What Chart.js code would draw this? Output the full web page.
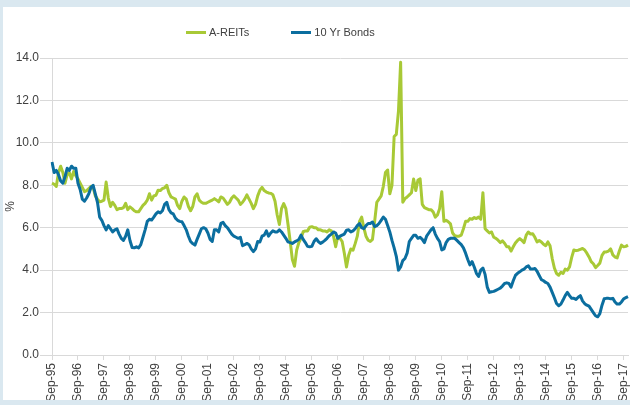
<!DOCTYPE html>
<html>
<head>
<meta charset="utf-8">
<title>A-REITs vs 10 Yr Bonds</title>
<script src="https://cdn.jsdelivr.net/npm/chart.js@4/dist/chart.umd.min.js"></script>
<style>
    html, body { margin: 0; padding: 0; }
    body { width: 630px; height: 405px; background: #dae8f0; overflow: hidden; position: relative; }
    #chartBox { position: absolute; left: 3px; top: 7px; width: 627px; height: 393px; background: #fff; overflow: hidden; }
    #legend { position: absolute; left: 183px; top: 19px; display: flex; align-items: center;
              font: 11px Arial, "Liberation Sans", sans-serif; color: #404040; line-height: 13px; }
    .legend-item { display: flex; align-items: center; margin-right: 42px; }
    .legend-swatch { width: 20px; height: 3px; margin-right: 3px; }
</style>
</head>
<body>
<div id="chartBox">
    <canvas id="yieldChart"></canvas>
    <div id="legend"></div>
</div>
<script>
// Monthly yields (%), Sep-95 .. Nov-17, one row per year (Sep..Aug)
const aReits = [
    8.1, 8.05, 7.95, 8.6, 8.9, 8.6, 8.1, 8.5, 8.6, 8.3, 8.65, 8.45,
    8.3, 8.1, 7.9, 7.7, 7.75, 7.85, 7.95, 7.9, 7.5, 7.35, 7.22, 7.25,
    7.3, 8.15, 7.4, 7.0, 7.2, 7.05, 6.85, 6.9, 6.9, 6.95, 7.15, 6.85,
    6.98, 6.9, 6.8, 6.75, 6.75, 6.9, 7.05, 7.15, 7.3, 7.6, 7.3, 7.5,
    7.53, 7.77, 7.75, 7.85, 7.88, 8.0, 7.65, 7.45, 7.4, 7.35, 7.05, 6.9,
    7.25, 7.45, 7.35, 7.0, 6.8, 7.0, 7.45, 7.6, 7.3, 7.2, 7.15, 7.15,
    7.2, 7.25, 7.3, 7.37, 7.3, 7.22, 7.45, 7.4, 7.25, 7.1, 7.2, 7.4,
    7.5, 7.4, 7.3, 7.1, 7.2, 7.35, 7.55, 7.35, 7.15, 6.9, 7.1, 7.5,
    7.77, 7.9, 7.75, 7.68, 7.64, 7.62, 7.55, 7.25, 6.6, 6.15, 6.9, 7.14,
    6.9, 6.15, 5.35, 4.5, 4.18, 4.95, 5.3, 5.5, 5.81, 5.85, 5.85, 6.02,
    6.05, 6.0, 6.0, 5.9, 5.9, 5.85, 5.85, 5.8, 5.9, 5.85, 5.6, 5.1,
    5.6, 5.5, 5.35, 4.8, 4.15, 4.7, 5.0, 4.94, 5.25, 5.6, 6.3, 6.5,
    6.0, 5.6, 5.41, 5.35, 5.45, 6.3, 7.2, 7.35, 7.5, 7.95, 8.6, 8.72,
    7.6, 8.0, 10.3, 10.4, 11.5, 13.8, 7.2, 7.37, 7.45, 7.55, 7.65, 8.3,
    7.75, 8.25, 8.3, 7.1, 6.95, 6.9, 6.85, 6.85, 6.75, 6.5, 6.6, 6.9,
    7.7, 6.3, 6.35, 6.28, 6.18, 5.75, 5.62, 5.6, 5.6, 5.65, 5.95, 6.3,
    6.3, 6.43, 6.4, 6.48, 6.43, 6.5, 6.4, 7.65, 5.95, 5.85, 5.75, 5.8,
    5.55, 5.5, 5.41, 5.3, 5.38, 5.27, 5.1, 5.1, 4.9, 5.1, 5.28, 5.4,
    5.49, 5.4, 5.3, 5.65, 5.8, 5.7, 5.72, 5.55, 5.33, 5.4, 5.33, 5.22,
    5.15, 5.33, 5.15, 4.55, 4.1, 3.84, 3.76, 3.9, 3.84, 4.05, 4.0, 4.15,
    4.6, 4.95, 4.92, 4.94, 4.98, 5.02, 4.95, 4.8, 4.62, 4.4, 4.3, 4.12,
    4.22, 4.33, 4.7, 4.85, 4.86, 4.9, 5.0, 4.72, 4.62, 4.58, 4.9, 5.18,
    5.1, 5.12, 5.18
];

const bonds = [
    9.1, 8.6, 8.7, 8.5, 8.2, 8.1, 8.4, 8.8, 8.7, 8.9, 8.8, 8.8,
    8.1, 7.8, 7.35, 7.25, 7.4, 7.6, 7.9, 8.0, 7.6, 7.2, 6.5, 6.35,
    6.1, 5.9, 6.1, 5.95, 5.8, 5.9, 5.95, 5.7, 5.5, 5.4, 5.6, 5.9,
    5.4, 5.07, 5.05, 5.1, 5.05, 5.2, 5.55, 5.9, 6.3, 6.4, 6.36, 6.5,
    6.65, 6.75, 6.7, 6.8, 7.1, 7.2, 6.85, 6.7, 6.65, 6.45, 6.35, 6.3,
    6.28, 6.1, 5.9, 5.6, 5.35, 5.25, 5.18, 5.45, 5.7, 5.95, 6.0, 5.95,
    5.75, 5.45, 5.35, 5.9, 5.9, 5.8, 6.2, 6.25, 6.1, 6.0, 5.85, 5.7,
    5.6, 5.55, 5.5, 5.55, 5.15, 5.2, 5.26, 5.2, 5.0, 4.87, 5.0, 5.35,
    5.33, 5.6, 5.65, 5.85, 5.6, 5.75, 5.85, 5.8, 5.8, 5.9, 5.8, 5.65,
    5.5, 5.33, 5.3, 5.26, 5.33, 5.38, 5.45, 5.65, 5.45, 5.3, 5.12, 5.1,
    5.12, 5.35, 5.48, 5.35, 5.26, 5.32, 5.4, 5.5, 5.62, 5.7, 5.8, 5.75,
    5.5, 5.6, 5.65, 5.7, 5.88, 5.9, 5.8, 5.85, 5.95, 6.1, 6.2, 6.0,
    5.95, 6.1, 6.2, 6.2, 6.27, 6.05, 6.1, 6.2, 6.35, 6.5, 6.4, 6.1,
    5.8, 5.4, 5.05, 4.65, 4.0, 4.15, 4.45, 4.55, 4.8, 5.35, 5.5, 5.64,
    5.64, 5.5, 5.55, 5.45, 5.3, 5.6, 5.75, 5.9, 6.0, 5.7, 5.5, 5.35,
    4.95, 5.0, 5.3, 5.45, 5.5, 5.5, 5.5, 5.4, 5.3, 5.2, 5.05, 4.8,
    4.5, 4.25, 4.4, 4.15, 3.85, 3.7, 4.0, 4.1, 3.8, 3.2, 2.95, 2.98,
    3.0, 3.05, 3.1, 3.15, 3.25, 3.37, 3.4, 3.37, 3.2, 3.5, 3.75, 3.85,
    3.92, 4.0, 4.05, 4.15, 4.2, 4.05, 4.05, 4.08, 3.95, 3.75, 3.55, 3.5,
    3.42, 3.37, 3.2, 2.95, 2.7, 2.43, 2.32, 2.4, 2.59, 2.8, 2.95, 2.8,
    2.67, 2.67, 2.62, 2.72, 2.8, 2.55, 2.42, 2.35, 2.3, 2.15, 2.0, 1.85,
    1.8, 1.95, 2.35, 2.65, 2.67, 2.67, 2.65, 2.67, 2.5, 2.4, 2.4, 2.5,
    2.65, 2.7, 2.75
];

// Only these months get a label and a tick mark on the x axis
const tickLabels = [
    'Sep-95', 'Sep-96', 'Sep-97', 'Sep-98', 'Sep-99', 'Sep-00', 'Sep-01', 'Sep-02',
    'Sep-03', 'Sep-04', 'Sep-05', 'Sep-06', 'Sep-07', 'Sep-08', 'Sep-09', 'Sep-10',
    'Sep-11', 'Sep-12', 'Sep-13', 'Sep-14', 'Sep-15', 'Sep-16', 'Sep-17'
];

// y axis: 0.0 .. 14.0 every 2.0
const Y_MIN = 0;
const Y_MAX = 14;
const Y_STEP = 2;

// Monthly category labels starting Sep-95
const MONTH_NAMES = ['Jan', 'Feb', 'Mar', 'Apr', 'May', 'Jun', 'Jul', 'Aug', 'Sep', 'Oct', 'Nov', 'Dec'];
const months = [];
for (let i = 0; i < aReits.length; i++) {
    const n = 8 + i;
    const year = 1995 + Math.floor(n / 12);
    months.push(MONTH_NAMES[n % 12] + '-' + String(year).slice(2));
}

const GREEN = '#a8c936';
const BLUE = '#0b6e9f';
const GRID = '#d9d9d9';
const TEXT = '#404040';
const FONT = 'Arial, "Liberation Sans", sans-serif';

Chart.defaults.font.family = FONT;
Chart.defaults.font.size = 12;
Chart.defaults.color = TEXT;

const ctx = document.getElementById('yieldChart').getContext('2d');
const yieldChart = new Chart(ctx, {
    type: 'line',
    data: {
        labels: months,
        datasets: [{
            label: 'A-REITs',
            data: aReits,
            borderColor: GREEN,
            backgroundColor: GREEN,
            borderWidth: 3,
            borderJoinStyle: 'round',
            pointRadius: 0,
            tension: 0,
            order: 1
        }, {
            label: '10 Yr Bonds',
            data: bonds,
            borderColor: BLUE,
            backgroundColor: BLUE,
            borderWidth: 3,
            borderJoinStyle: 'round',
            pointRadius: 0,
            tension: 0,
            order: 0
        }]
    },
    options: {
        responsive: true,
        maintainAspectRatio: false,
        animation: false,
        layout: {
            padding: { top: 51, right: 2, bottom: 0, left: 0 }
        },
        plugins: {
            legend: { display: false },
            tooltip: { mode: 'index', intersect: false }
        },
        scales: {
            x: {
                ticks: {
                    autoSkip: false,
                    minRotation: 90,
                    maxRotation: 90,
                    padding: 3,
                    callback: function(value, index) {
                        return tickLabels.includes(months[index]) ? months[index] : '';
                    }
                },
                grid: {
                    drawOnChartArea: false,
                    drawTicks: true,
                    tickLength: 5,
                    color: function(context) {
                        return tickLabels.includes(months[context.index]) ? GRID : 'rgba(0,0,0,0)';
                    }
                },
                border: { color: GRID },
                afterFit: function(scale) {
                    scale.height = 45;
                    scale.paddingLeft = 0;
                    scale.paddingRight = 0;
                }
            },
            y: {
                min: Y_MIN,
                max: Y_MAX,
                ticks: {
                    stepSize: Y_STEP,
                    autoSkip: false,
                    padding: 1,
                    callback: function(value) {
                        return Number(value).toFixed(1);
                    }
                },
                grid: {
                    color: GRID,
                    tickLength: 12
                },
                border: { color: GRID },
                title: {
                    display: true,
                    text: '%',
                    padding: { top: 0, bottom: 0 }
                },
                afterFit: function(scale) {
                    scale.width = 49;
                }
            }
        }
    }
});

// Legend built from the datasets
function buildLegend(chart) {
    let html = '';
    chart.data.datasets.forEach(ds => {
        html += `
            <div class="legend-item">
                <span class="legend-swatch" style="background:${ds.borderColor}"></span>
                <span>${ds.label}</span>
            </div>`;
    });
    document.getElementById('legend').innerHTML = html;
}
buildLegend(yieldChart);
</script>
</body>
</html>
